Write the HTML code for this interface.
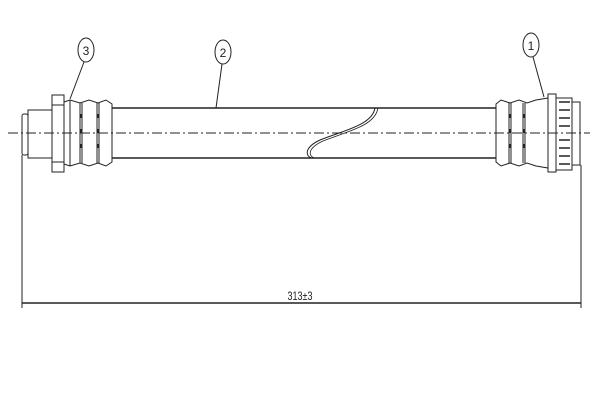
<!DOCTYPE html>
<html><head><style>body{margin:0;background:#fff}svg{display:block}</style></head><body>
<svg width="600" height="400" viewBox="0 0 600 400" xmlns="http://www.w3.org/2000/svg" fill="none" stroke="#222" stroke-width="1">
<!-- tube -->
<line x1="112" y1="108" x2="496" y2="108" stroke-width="1.5"/>
<line x1="112" y1="158" x2="496" y2="158" stroke-width="1.5"/>
<path d="M375 108 C372 125 345 130 320 140 C305 147 305 155 311 158" stroke-width="1"/>
<path d="M378 108 C375 126 348 131 323 141 C308 148 308 155 314 158" stroke-width="0.8"/>
<!-- left fitting -->
<rect x="22" y="114" width="6" height="41" rx="2"/>
<rect x="28" y="110" width="24" height="48"/>
<rect x="52" y="95" width="12" height="77"/>
<line x1="52" y1="105" x2="64" y2="105"/><line x1="52" y1="162" x2="64" y2="162"/>
<path d="M64 102 L70 100 L80 103 L89 100 L98 103 L106 100 L112 104 L112 162 L106 166 L98 163 L89 166 L80 163 L70 166 L64 164 Z"/>
<line x1="80" y1="103" x2="80" y2="163"/><line x1="82" y1="103" x2="82" y2="163"/>
<line x1="97" y1="103" x2="97" y2="163"/><line x1="99" y1="103" x2="99" y2="163"/>
<line x1="81" y1="114" x2="81" y2="158" stroke-dasharray="4 11" stroke-width="2.5"/>
<line x1="98" y1="114" x2="98" y2="158" stroke-dasharray="4 11" stroke-width="2.5"/>
<line x1="70" y1="100" x2="70" y2="166"/>
<!-- right fitting -->
<path d="M496 104 L501 100 L510 103 L519 100 L527 103 L536 100 L548 98 L548 168 L536 166 L527 163 L519 166 L510 163 L501 166 L496 162 Z"/>
<line x1="509" y1="103" x2="509" y2="163"/><line x1="511" y1="103" x2="511" y2="163"/>
<line x1="523" y1="103" x2="523" y2="163"/><line x1="525" y1="103" x2="525" y2="163"/>
<line x1="510" y1="114" x2="510" y2="158" stroke-dasharray="4 11" stroke-width="2.5"/>
<line x1="524" y1="114" x2="524" y2="158" stroke-dasharray="4 11" stroke-width="2.5"/>
<rect x="548" y="94" width="8" height="78"/>
<rect x="556" y="98" width="16" height="72"/>
<g stroke-width="1.5">
<line x1="559" y1="102" x2="570" y2="102"/><line x1="559" y1="110" x2="570" y2="110"/><line x1="559" y1="118" x2="570" y2="118"/><line x1="559" y1="126" x2="570" y2="126"/><line x1="559" y1="140" x2="570" y2="140"/><line x1="559" y1="148" x2="570" y2="148"/><line x1="559" y1="156" x2="570" y2="156"/><line x1="559" y1="164" x2="570" y2="164"/>
</g>
<rect x="572" y="102" width="8" height="63"/>
<!-- centerline -->
<line x1="8" y1="133" x2="590" y2="133" stroke-dasharray="10 3 2 3"/>
<!-- dimensions -->
<line x1="22" y1="155" x2="22" y2="308"/>
<line x1="581" y1="165" x2="581" y2="308"/>
<line x1="22" y1="303" x2="581" y2="303" stroke-width="1.5"/>
<text x="300" y="300" font-family="Liberation Sans, sans-serif" font-size="12" fill="#222" stroke="none" text-anchor="middle" transform="translate(300 0) scale(0.75 1) translate(-300 0)">313±3</text>
<!-- balloons -->
<ellipse cx="86" cy="50" rx="8" ry="12"/>
<text x="86" y="55" font-family="Liberation Sans, sans-serif" font-size="12" fill="#222" stroke="none" text-anchor="middle">3</text>
<line x1="84" y1="62" x2="70" y2="99"/>
<ellipse cx="223" cy="52" rx="8" ry="12"/>
<text x="223" y="57" font-family="Liberation Sans, sans-serif" font-size="12" fill="#222" stroke="none" text-anchor="middle">2</text>
<line x1="222" y1="64" x2="216" y2="108"/>
<ellipse cx="531" cy="45" rx="8" ry="12"/>
<text x="531" y="50" font-family="Liberation Sans, sans-serif" font-size="12" fill="#222" stroke="none" text-anchor="middle">1</text>
<line x1="533" y1="57" x2="544" y2="97"/>
</svg>
</body></html>
